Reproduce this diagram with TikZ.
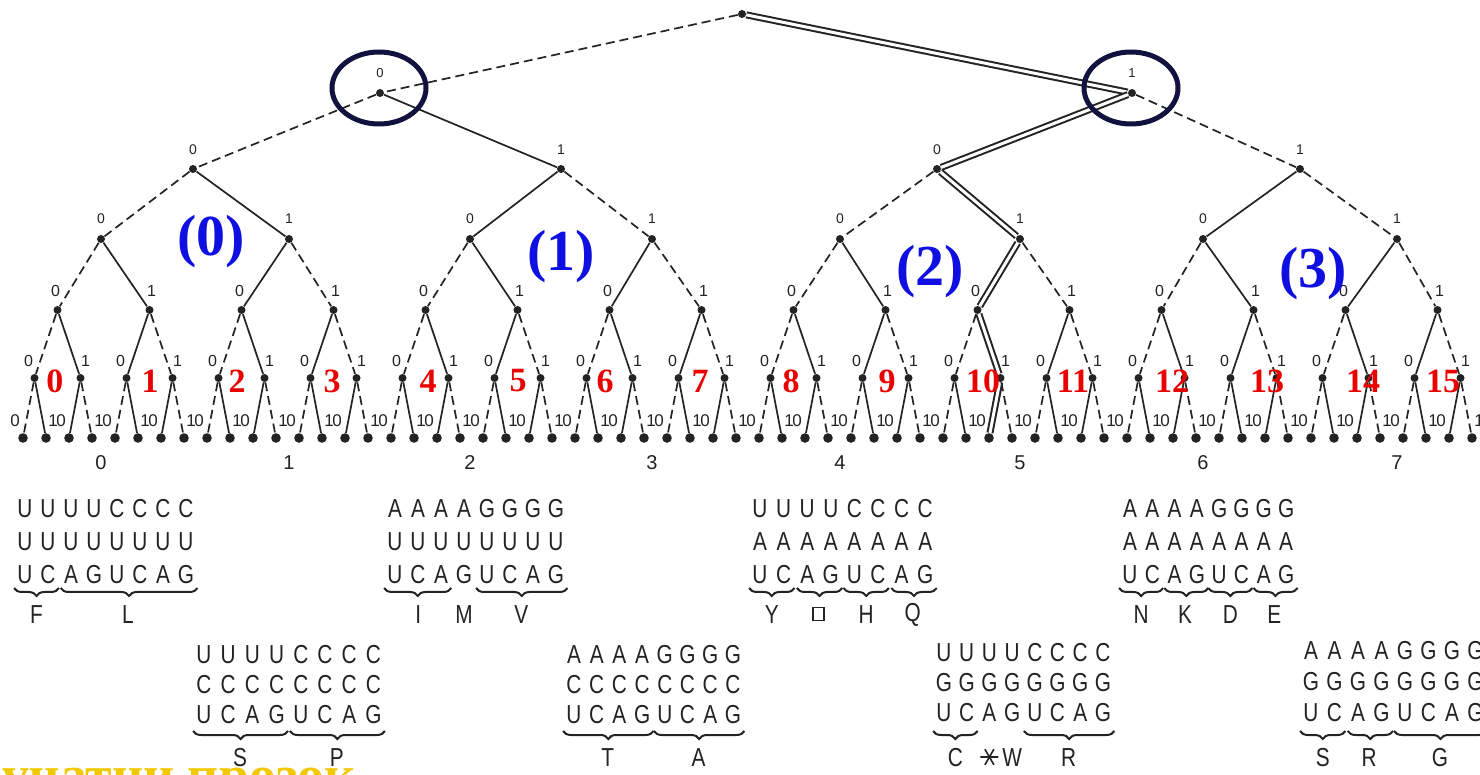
\documentclass[tikz,border=0pt]{standalone}
\usepackage{fontspec}
\setmainfont{Liberation Sans}
\newfontfamily\serifb{Liberation Serif}
\newfontfamily\codfont[FakeStretch=0.8]{Liberation Sans}
\usetikzlibrary{decorations.pathreplacing,shapes.geometric}
\definecolor{ink}{RGB}{35,35,35}
\definecolor{navy}{RGB}{18,18,62}
\definecolor{redn}{RGB}{235,0,0}
\definecolor{bluel}{RGB}{15,15,225}
\definecolor{gold}{RGB}{242,200,0}
\tikzset{
  dot/.style={circle,fill=ink,inner sep=0pt,minimum size=4pt},
  leafdot/.style={circle,fill=ink,inner sep=0pt,minimum size=4.8pt},
  solidedge/.style={draw=ink,line width=0.85pt},
  dashedge/.style={draw=ink,line width=0.85pt,dash pattern=on 4.5pt off 2.5pt},
  pathedge/.style={draw=ink,line width=1pt,double=white,double distance=1.5pt},
  bitlab/.style={text=ink,inner sep=0pt},
  rednum/.style={text=redn,inner sep=0pt,font=\serifb\bfseries\fontsize{17}{17}\selectfont},
  bluenum/.style={text=bluel,inner sep=0pt,font=\serifb\bfseries\fontsize{29}{29}\selectfont},
  hlcircle/.style={ellipse,draw=navy,line width=2.5pt,minimum width=47pt,minimum height=36pt,inner sep=0pt},
  numlab/.style={text=ink,inner sep=0pt,font=\fontsize{10}{10}\selectfont},
  cod/.style={text=ink,inner sep=0pt,font=\codfont\fontsize{13}{13}\selectfont},
  cbrace/.style={draw=ink,line width=1pt,decorate,decoration={brace,mirror,amplitude=4pt}},
}
% codon block: id, x0, dx, y1, row gap, row1, row2
\newcommand\cblock[7]{%
  \foreach \ltr [count=\i] in {#6} \node[cod] (#1-a\i) at ({#2+#3*(\i-1)},#4) {\ltr};
  \foreach \ltr [count=\i] in {#7} \node[cod] (#1-b\i) at ({#2+#3*(\i-1)},{#4+#5}) {\ltr};
  \foreach \ltr [count=\i] in {U,C,A,G,U,C,A,G} \node[cod] (#1-c\i) at ({#2+#3*(\i-1)},{#4+2*#5}) {\ltr};
}
% brace: id, first, last, label, brace y, label y
\newcommand\cbr[6]{%
  \draw[cbrace] ([xshift=-1.5pt]#1-c#2.west |- 0,#5) -- ([xshift=1.5pt]#1-c#3.east |- 0,#5);
  \path (#1-c#2) -- (#1-c#3) coordinate[pos=.5] (#1-m#2);
  \node[cod] (#1-l#2) at (#1-m#2 |- 0,#6) {#4};
}
\begin{document}
\begin{tikzpicture}[x=0.5pt,y=-0.5pt]
\useasboundingbox (0,0) rectangle (1480,775);
\fill[white] (0,0) rectangle (1480,775);

% tree nodes
\node[dot] (n0-0) at (742,14) {};
\foreach \k/\x in {0/380,1/1132} \node[dot] (n1-\k) at (\x,93) {};
\foreach \k/\x in {0/193,1/561,2/937,3/1300} \node[dot] (n2-\k) at (\x,169) {};
\foreach \k/\x in {0/101,1/289,2/470,3/652,4/840,5/1020,6/1203,7/1397} \node[dot] (n3-\k) at (\x,239) {};
\foreach \k in {0,...,15} \node[dot] (n4-\k) at ({57.5+92*\k},310) {};
\foreach \k in {0,...,31} \node[dot] (n5-\k) at ({34.5+46*\k},378) {};
\foreach \k in {0,...,63} \node[leafdot] (n6-\k) at ({23+23*\k},438) {};

% edges and bit labels
\foreach \L/\P/\n/\dxa/\dxb/\dy/\fs in {1/0/1/0/0/20/6.5, 2/1/3/0/0/19/7, 3/2/7/0/0/20/7, 4/3/15/-2/2/19/8, 5/4/31/-6/5/17/8, 6/5/63/-8/7/17/8.5} {
  \foreach \k in {0,...,\n} {
    \pgfmathtruncatemacro\pk{floor(\k/2)}
    \pgfmathtruncatemacro\cb{mod(\k,2)}
    \pgfmathtruncatemacro\pb{mod(\pk,2)}
    \pgfmathtruncatemacro\hl{(\k==floor(42/2^(6-\L))) ? 1 : 0}
    \ifnum\hl=1 \path[pathedge] (n\P-\pk) -- (n\L-\k);
    \else\ifnum\cb=\pb \path[dashedge] (n\P-\pk) -- (n\L-\k);
    \else \path[solidedge] (n\P-\pk) -- (n\L-\k); \fi\fi
    \ifnum\cb=0 \def\ddx{\dxa}\else\def\ddx{\dxb}\fi
    \node[bitlab,font=\fontsize{\fs}{\fs}\selectfont] (lab\L-\k) at ([xshift={\ddx*0.5pt},yshift={\dy*0.5pt}]n\L-\k) {\cb};
  }
}

% numbers under level 3
\foreach \k in {0,...,7} \node[numlab] (num\k) at (n3-\k |- 0,463) {\k};

% red numbers
\foreach \i/\x in {0/55,1/150,2/237,3/332,4/428,5/518,6/605,7/700,8/791,9/887,10/983,11/1073,12/1172,13/1267,14/1363,15/1443}
  \node[rednum] (red\i) at (\x,381) {\i};

% blue group labels
\node[bluenum] (g0) at (211,242) {(0)};
\node[bluenum] (g1) at (561,257) {(1)};
\node[bluenum] (g2) at (930,272) {(2)};
\node[bluenum] (g3) at (1313,274) {(3)};

% navy circles
\node[hlcircle] (c0) at (379,88) {};
\node[hlcircle] (c1) at (1131,88) {};

% codon blocks (upper row)
\cblock{b0}{25}{23}{509}{33}{U,U,U,U,C,C,C,C}{U,U,U,U,U,U,U,U}
\cbr{b0}{1}{2}{F}{588}{615}
\cbr{b0}{3}{8}{L}{588}{615}

\cblock{b2}{395}{23}{509}{33}{A,A,A,A,G,G,G,G}{U,U,U,U,U,U,U,U}
\cbr{b2}{1}{3}{I}{588}{615}
\node[cod] (b2-M) at (b2-c4 |- 0,615) {M};
\cbr{b2}{5}{8}{V}{588}{615}

\cblock{b4}{760}{23.6}{509}{33}{U,U,U,U,C,C,C,C}{A,A,A,A,A,A,A,A}
\cbr{b4}{1}{2}{Y}{588}{615}
\draw[cbrace] ([xshift=-1.5pt]b4-c3.west |- 0,588) -- ([xshift=1.5pt]b4-c4.east |- 0,588);
\path (b4-c3) -- (b4-c4) coordinate[pos=.5] (b4-m3);
\node[draw=ink,line width=0.8pt,minimum width=5.5pt,minimum height=6.5pt,inner sep=0pt] (b4-sq) at (b4-m3 |- 0,614) {};
\cbr{b4}{5}{6}{H}{588}{615}
\cbr{b4}{7}{8}{Q}{588}{615}

\cblock{b6}{1130}{22.3}{509}{33}{A,A,A,A,G,G,G,G}{A,A,A,A,A,A,A,A}
\cbr{b6}{1}{2}{N}{588}{615}
\cbr{b6}{3}{4}{K}{588}{615}
\cbr{b6}{5}{6}{D}{588}{615}
\cbr{b6}{7}{8}{E}{588}{615}

% codon blocks (lower row)
\cblock{b1}{204}{24.2}{655}{30}{U,U,U,U,C,C,C,C}{C,C,C,C,C,C,C,C}
\cbr{b1}{1}{4}{S}{731}{758}
\cbr{b1}{5}{8}{P}{731}{758}

\cblock{b3}{574}{22.7}{655}{30}{A,A,A,A,G,G,G,G}{C,C,C,C,C,C,C,C}
\cbr{b3}{1}{4}{T}{731}{758}
\cbr{b3}{5}{8}{A}{731}{758}

\cblock{b5}{944}{22.7}{653}{30}{U,U,U,U,C,C,C,C}{G,G,G,G,G,G,G,G}
\cbr{b5}{1}{2}{C}{731}{758}
\coordinate (b5-ast) at (b5-c3 |- 0,757);
\draw[ink,line width=0.8pt] ([xshift=-4.5pt]b5-ast) -- ([xshift=4.5pt]b5-ast)
  ([shift={(60:4.5pt)}]b5-ast) -- ([shift={(240:4.5pt)}]b5-ast)
  ([shift={(120:4.5pt)}]b5-ast) -- ([shift={(300:4.5pt)}]b5-ast);
\node[cod] (b5-W) at (b5-c4 |- 0,758) {W};
\cbr{b5}{5}{8}{R}{731}{758}

\cblock{b7}{1311}{23.5}{651}{31}{A,A,A,A,G,G,G,G}{G,G,G,G,G,G,G,G}
\cbr{b7}{1}{2}{S}{731}{758}
\cbr{b7}{3}{4}{R}{731}{758}
\cbr{b7}{5}{8}{G}{731}{758}

% clipped yellow caption at the bottom edge
\begin{scope}
\clip (0,0) rectangle (1480,775);
\node[anchor=base east,inner sep=0pt,text=gold,font=\serifb\bfseries\fontsize{27}{27}\selectfont] (cap) at (356,793) {учатни прозок};
\end{scope}
\end{tikzpicture}
\end{document}
